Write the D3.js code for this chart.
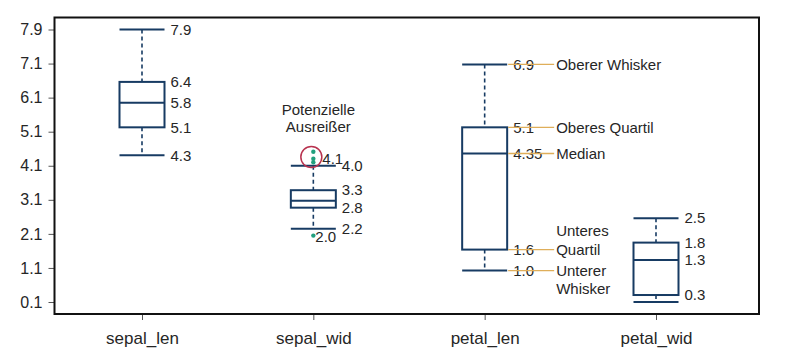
<!DOCTYPE html>
<html>
<head>
<meta charset="utf-8">
<script src="https://cdn.jsdelivr.net/npm/d3@7"></script>
<style>
  body { margin: 0; background: #fff; }
  text { font-family: "Liberation Sans", Arial, sans-serif; fill: #262626; }
</style>
</head>
<body>
<svg id="chart" width="800" height="364"></svg>
<script>
// box plot data (iris)
var categories = ["sepal_len", "sepal_wid", "petal_len", "petal_wid"];
var whiskerLow  = [4.3, 2.2, 1.0, 0.1];
var q1          = [5.1, 2.8, 1.6, 0.3];
var median      = [5.8, 3.0, 4.35, 1.3];
var q3          = [6.4, 3.3, 5.1, 1.8];
var whiskerHigh = [7.9, 4.0, 6.9, 2.5];
var outliers    = [[], [4.4, 4.2, 4.1, 2.0], [], []];

// printed values beside each box
var valueLabels = [
  ["7.9", "6.4", "5.8", "5.1", "4.3"],
  ["4.0", "3.3", "2.8", "2.2"],
  ["6.9", "5.1", "4.35", "1.6", "1.0"],
  ["2.5", "1.8", "1.3", "0.3"]
];
var outlierLabels = [{v: 4.1, text: "4.1"}, {v: 2.0, text: "2.0"}];

// y tick labels as printed (ticks are evenly spaced between min and max)
var tickLabels = ["0.1", "1.1", "2.1", "3.1", "4.1", "5.1", "6.1", "7.1", "7.9"];

// explanation on the petal_len box
var explain = [
  {v: 6.9, lines: ["Oberer Whisker"], shift: 0},
  {v: 5.1, lines: ["Oberes Quartil"], shift: 0},
  {v: 4.35, lines: ["Median"], shift: 0},
  {v: 1.6, lines: ["Unteres", "Quartil"], shift: -1},
  {v: 1.0, lines: ["Unterer", "Whisker"], shift: 0}
];

var frame = {left: 54.5, top: 17.5, right: 759, bottom: 314};
var boxW = 45;
var navy = "#173b63";

var svg = d3.select("#chart");

var y = d3.scaleLinear().domain([0.1, 7.9]).range([302, 29.5]);
var x = d3.scalePoint().domain(categories).range([142, 656]);

var tickVals = tickLabels.map(function(d, i) { return 0.1 + i * (7.8 / (tickLabels.length - 1)); });

// axes
var yAxis = d3.axisLeft(y).tickValues(tickVals).tickSize(6).tickPadding(6)
  .tickFormat(function(d, i) { return tickLabels[i]; });
var gy = svg.append("g").attr("transform", "translate(" + frame.left + ",0)").call(yAxis);
gy.select(".domain").remove();
gy.selectAll(".tick line").attr("stroke", "#555");
gy.selectAll(".tick text").style("font-size", "16px").attr("fill", "#262626")
  .style("font-family", "'Liberation Sans', Arial, sans-serif");

var xAxis = d3.axisBottom(x).tickSize(6).tickPadding(6);
var gx = svg.append("g").attr("transform", "translate(0," + frame.bottom + ")").call(xAxis);
gx.select(".domain").remove();
gx.selectAll(".tick line").attr("stroke", "#555");
gx.selectAll(".tick text").style("font-size", "17px").attr("fill", "#262626").attr("dy", "1.05em")
  .style("font-family", "'Liberation Sans', Arial, sans-serif");

// plot frame
svg.append("rect")
  .attr("x", frame.left).attr("y", frame.top)
  .attr("width", frame.right - frame.left).attr("height", frame.bottom - frame.top)
  .attr("fill", "none").attr("stroke", "#111").attr("stroke-width", 2);

// boxes
var boxes = svg.append("g").selectAll("g.box")
  .data(categories)
  .enter().append("g").attr("class", "box");

boxes.each(function(c, i) {
  var g = d3.select(this);
  var cx = x(c);
  // whiskers (dashed)
  g.append("line").attr("x1", cx).attr("x2", cx)
    .attr("y1", y(whiskerHigh[i])).attr("y2", y(q3[i]))
    .attr("stroke", navy).attr("stroke-width", 1.6).attr("stroke-dasharray", "4,3");
  g.append("line").attr("x1", cx).attr("x2", cx)
    .attr("y1", y(q1[i])).attr("y2", y(whiskerLow[i]))
    .attr("stroke", navy).attr("stroke-width", 1.6).attr("stroke-dasharray", "4,3");
  // caps
  [whiskerHigh[i], whiskerLow[i]].forEach(function(v) {
    g.append("line").attr("x1", cx - boxW / 2).attr("x2", cx + boxW / 2)
      .attr("y1", y(v)).attr("y2", y(v))
      .attr("stroke", navy).attr("stroke-width", 2);
  });
  // box + median
  g.append("rect").attr("x", cx - boxW / 2).attr("y", y(q3[i]))
    .attr("width", boxW).attr("height", y(q1[i]) - y(q3[i]))
    .attr("fill", "#fff").attr("stroke", navy).attr("stroke-width", 2);
  g.append("line").attr("x1", cx - boxW / 2).attr("x2", cx + boxW / 2)
    .attr("y1", y(median[i])).attr("y2", y(median[i]))
    .attr("stroke", navy).attr("stroke-width", 2);
  // printed values
  g.selectAll("text.val").data(valueLabels[i]).enter().append("text")
    .attr("class", "val")
    .attr("x", cx + boxW / 2 + 6).attr("y", function(d) { return y(+d); })
    .attr("dy", "0.35em").style("font-size", "15px")
    .text(function(d) { return d; });
  // outliers
  g.selectAll("circle.out").data(outliers[i]).enter().append("circle")
    .attr("class", "out").attr("cx", cx).attr("cy", function(d) { return y(d); })
    .attr("r", 2.2).attr("fill", "#23a07e");
});

// outlier annotation on sepal_wid
var sx = x("sepal_wid");
svg.append("circle").attr("cx", sx - 2).attr("cy", y(4.25))
  .attr("r", 10.5).attr("fill", "none").attr("stroke", "#b8324f").attr("stroke-width", 1.5);
svg.selectAll("text.outlab").data(outlierLabels).enter().append("text")
  .attr("class", "outlab")
  .attr("x", function(d, i) { return sx + (i === 0 ? 9 : 2); })
  .attr("y", function(d) { return y(d.v); })
  .attr("dy", function(d, i) { return i === 0 ? "0.1em" : "0.4em"; })
  .style("font-size", "15px").text(function(d) { return d.text; });
svg.append("text").attr("x", sx + 5).attr("y", 115).attr("text-anchor", "middle")
  .style("font-size", "15px")
  .selectAll("tspan").data(["Potenzielle", "Ausreißer"]).enter().append("tspan")
  .attr("x", sx + 5).attr("dy", function(d, i) { return i ? "1.15em" : 0; })
  .text(function(d) { return d; });

// explanation lines on petal_len
var px = x("petal_len") + boxW / 2;
var ex = svg.append("g");
ex.selectAll("line").data(explain).enter().append("line")
  .attr("x1", px + 1).attr("x2", px + 47)
  .attr("y1", function(d) { return y(d.v); }).attr("y2", function(d) { return y(d.v); })
  .attr("stroke", "#dfae5a").attr("stroke-width", 1.3);
explain.forEach(function(d) {
  d.lines.forEach(function(t, j) {
    ex.append("text").attr("x", px + 49)
      .attr("y", y(d.v) + (j + d.shift) * 18.5)
      .attr("dy", "0.35em").style("font-size", "15px").text(t);
  });
});
</script>
</body>
</html>
